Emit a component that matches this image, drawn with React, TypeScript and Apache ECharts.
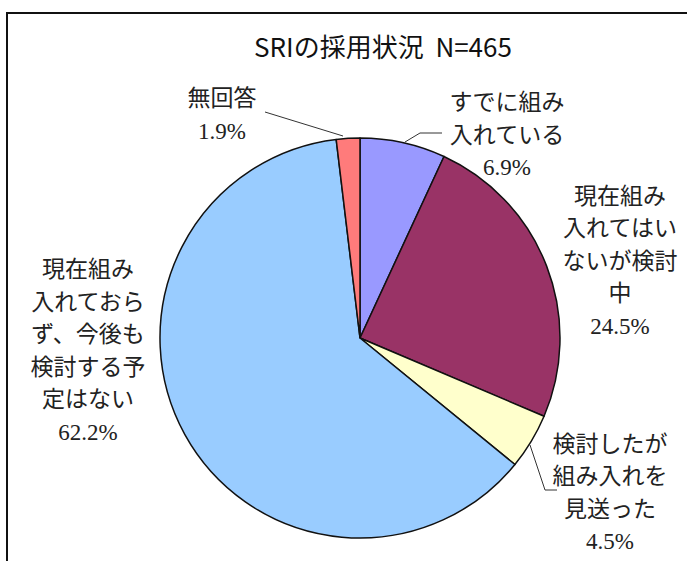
import React, { useEffect, useRef } from "react";
import * as echarts from "echarts";

const categories = [
  "すでに組み入れている",
  "現在組み入れてはいないが検討中",
  "検討したが組み入れを見送った",
  "現在組み入れておらず、今後も検討する予定はない",
  "無回答",
];
const values = [6.9, 24.5, 4.5, 62.2, 1.9];
const labelTexts = [
  "すでに組み\n入れている\n6.9%",
  "現在組み\n入れてはい\nないが検討\n中\n24.5%",
  "検討したが\n組み入れを\n見送った\n4.5%",
  "現在組み\n入れておら\nず、今後も\n検討する予\n定はない\n62.2%",
  "無回答\n1.9%",
];
const colors = ["#9999FF", "#993366", "#FFFFCC", "#99CCFF", "#FF7B7B"];
const titleText = "SRIの採用状況  N=465";

// layout (positions only)
const labelPos = [
  { x: 507, y: 135 },
  { x: 620, y: 261 },
  { x: 610, y: 493 },
  { x: 88, y: 351 },
  { x: 222, y: 115 },
];
const leaderLines: (number[][] | null)[] = [
  [[405, 142], [420, 133], [442, 133]],
  null,
  [[530, 445], [545, 490], [557, 490]],
  null,
  [[265, 112], [343, 136]],
];

export default function App() {
  const ref = useRef<HTMLDivElement>(null);
  useEffect(() => {
    if (!ref.current) return;
    const chart = echarts.init(ref.current, undefined, { renderer: "svg" });
    chart.setOption({
      animation: false,
      backgroundColor: "#ffffff",
      graphic: [
        {
          type: "rect",
          shape: { x: 7, y: 13, width: 720, height: 620 },
          style: { fill: "none", stroke: "#111", lineWidth: 2 },
          silent: true,
        },
        {
          type: "text",
          x: 383,
          y: 45,
          silent: true,
          style: {
            text: titleText,
            align: "center",
            verticalAlign: "middle",
            fontFamily: "'Noto Sans CJK JP', sans-serif",
            fontSize: 26,
            fontWeight: "normal",
            fill: "#111",
          },
        },
      ],
      series: [
        {
          type: "pie",
          center: [360, 338],
          radius: 200,
          startAngle: 90,
          clockwise: true,
          avoidLabelOverlap: false,
          itemStyle: { borderColor: "#111", borderWidth: 1.5 },
          label: {
            show: true,
            position: "outside",
            fontFamily: "'Liberation Serif', 'Noto Sans CJK JP', serif",
            fontSize: 23,
            lineHeight: 32.5,
            color: "#222",
            align: "center",
          },
          labelLine: {
            show: true,
            lineStyle: { color: "#333", width: 1 },
          },
          labelLayout: (params: any) => {
            const i = params.dataIndex;
            const p = labelPos[i];
            const res: any = {
              x: p.x,
              y: p.y,
              align: "center",
              verticalAlign: "middle",
            };
            if (leaderLines[i]) res.labelLinePoints = leaderLines[i];
            return res;
          },
          data: categories.map((name, i) => ({
            name,
            value: values[i],
            itemStyle: { color: colors[i] },
            label: { formatter: labelTexts[i] },
            labelLine: { show: !!leaderLines[i] },
          })),
        },
      ],
    });
    return () => chart.dispose();
  }, []);
  return (
    <div
      ref={ref}
      style={{ position: "fixed", left: 0, top: 0, width: 687, height: 561 }}
    />
  );
}
